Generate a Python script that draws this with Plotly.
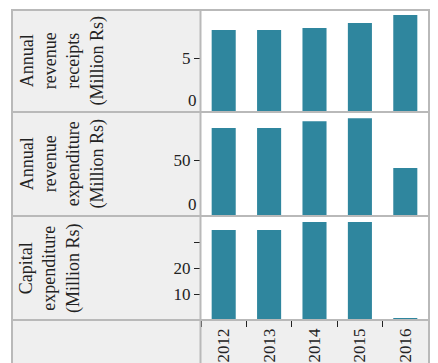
import plotly.graph_objects as go

years = ["2012", "2013", "2014", "2015", "2016"]
revenue_receipts = [7.64, 7.64, 7.82, 8.29, 9.03]
revenue_expenditure = [78.6, 78.6, 84.8, 87.5, 42.9]
capital_expenditure = [34.6, 34.6, 37.7, 37.7, 0.65]
row_titles = [
    "Annual<br>revenue<br>receipts<br>(Million Rs)",
    "Annual<br>revenue<br>expenditure<br>(Million Rs)",
    "Capital<br>expenditure<br>(Million Rs)",
]

W, H = 438, 363
OFF = 8  # page body margin
FONT = "Liberation Serif"
BAR = "#2f869e"
BORDER = "#b9b9b9"
CELL = "#efefef"


def X(px):
    return (px - OFF) / W


def Y(py):
    return 1 - (py - OFF) / H


x0p, x1p = 201, 428
rows = [(10, 112), (112, 216), (216, 320)]
ranges = [[0, 9.5], [0, 93], [0, 40]]
series = [revenue_receipts, revenue_expenditure, capital_expenditure]

fig = go.Figure()
for i, vals in enumerate(series):
    fig.add_trace(go.Bar(x=years, y=vals, marker_color=BAR, marker_line_width=0,
                         xaxis="x" if i == 0 else f"x{i+1}",
                         yaxis="y" if i == 0 else f"y{i+1}",
                         showlegend=False, hoverinfo="skip"))
# registration traces for overlay axes that carry the flush "0" labels
fig.add_trace(go.Scatter(x=[], y=[], xaxis="x", yaxis="y4", showlegend=False))
fig.add_trace(go.Scatter(x=[], y=[], xaxis="x2", yaxis="y5", showlegend=False))

tickfont = dict(family=FONT, size=17, color="#222")
lay = dict(width=W, height=H, margin=dict(l=0, r=0, t=0, b=0),
           paper_bgcolor="white", plot_bgcolor="white", bargap=0.47,
           font=dict(family=FONT, color="#222"))

yt = [dict(tickvals=[5], ticktext=["5"]),
      dict(tickvals=[50], ticktext=["50"]),
      dict(tickvals=[10, 20, 30], ticktext=["10", "20", ""])]

for i, (top, bot) in enumerate(rows):
    xn = "xaxis" if i == 0 else f"xaxis{i+1}"
    yn = "yaxis" if i == 0 else f"yaxis{i+1}"
    ya = "y" if i == 0 else f"y{i+1}"
    xa = "x" if i == 0 else f"x{i+1}"
    lay[xn] = dict(domain=[X(x0p), X(x1p)], anchor=ya, type="category",
                   categoryorder="array", categoryarray=years,
                   showgrid=False, zeroline=False, showline=False,
                   showticklabels=(i == 2), ticks="outside" if i == 2 else "",
                   tickson="boundaries", ticklen=6, tickwidth=1, tickcolor="#222",
                   tickangle=-90, tickfont=tickfont, ticklabelstandoff=4,
                   matches=None if i == 0 else "x")
    lay[yn] = dict(domain=[Y(bot), Y(top)], anchor=xa, range=ranges[i],
                   showgrid=False, zeroline=False, showline=False,
                   ticks="outside", ticklen=6, tickwidth=1, tickcolor="#222",
                   tickfont=tickfont, **yt[i])

for j, (i, ov) in enumerate([(0, "y"), (1, "y2")]):
    top, bot = rows[i]
    lay[f"yaxis{4+j}"] = dict(domain=[Y(bot), Y(top)], overlaying=ov,
                               anchor="x" if i == 0 else "x2", range=ranges[i],
                               showgrid=False, zeroline=False, showline=False,
                               ticks="outside", ticklen=6,
                               tickcolor="rgba(0,0,0,0)",
                               tickvals=[0], ticktext=["0"],
                               ticklabelposition="outside top", tickfont=tickfont)

shapes = []
# top strip
shapes.append(dict(type="rect", xref="paper", yref="paper", x0=X(12), x1=X(429),
                   y0=Y(4), y1=Y(-6), fillcolor="#e9e9e9",
                   line=dict(color=BORDER, width=2), layer="below"))
# left header cells
for top, bot in rows + [(320, 380)]:
    shapes.append(dict(type="rect", xref="paper", yref="paper", x0=X(12), x1=X(201),
                       y0=Y(bot), y1=Y(top), fillcolor=CELL, line_width=0,
                       layer="below"))
# bottom axis cell
shapes.append(dict(type="rect", xref="paper", yref="paper", x0=X(201), x1=X(429),
                   y0=Y(380), y1=Y(320), fillcolor=CELL, line_width=0, layer="below"))
# borders
shapes.append(dict(type="rect", xref="paper", yref="paper", x0=X(12), x1=X(429),
                   y0=Y(380), y1=Y(10), line=dict(color=BORDER, width=2),
                   fillcolor="rgba(0,0,0,0)", layer="above"))
for py in (112, 216, 320):
    shapes.append(dict(type="line", xref="paper", yref="paper", x0=X(12), x1=X(429),
                       y0=Y(py), y1=Y(py), line=dict(color=BORDER, width=2),
                       layer="above"))
shapes.append(dict(type="line", xref="paper", yref="paper", x0=X(200.5), x1=X(200.5),
                   y0=Y(380), y1=Y(10), line=dict(color=BORDER, width=2),
                   layer="above"))
lay["shapes"] = shapes

annos = []
for (top, bot), t in zip(rows, row_titles):
    annos.append(dict(text=t, xref="paper", yref="paper", x=X(14),
                      y=Y((top + bot) / 2), xanchor="left", yanchor="middle",
                      textangle=-90, showarrow=False, align="center",
                      font=dict(family=FONT, size=18, color="#222")))
lay["annotations"] = annos

fig.update_layout(**lay)
fig.write_html("out.html")
